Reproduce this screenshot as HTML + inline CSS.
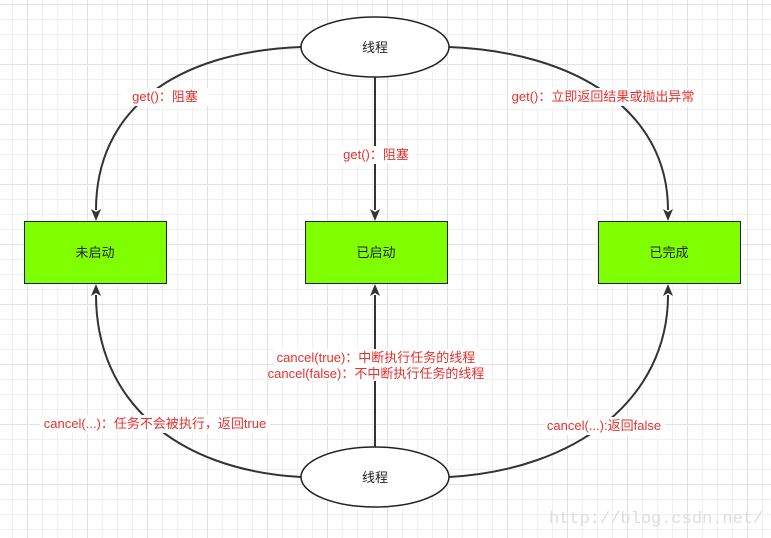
<!DOCTYPE html>
<html><head><meta charset="utf-8"><style>
html,body{margin:0;padding:0;}
body{width:771px;height:538px;overflow:hidden;background:#fff;
background-image:
linear-gradient(to right,#e2e2e2 1px,transparent 1px),
linear-gradient(to bottom,#e2e2e2 1px,transparent 1px),
linear-gradient(to right,#f0f0f0 1px,transparent 1px),
linear-gradient(to bottom,#f0f0f0 1px,transparent 1px);
background-size:60px 60px,60px 60px,15px 15px,15px 15px;
background-position:27px 0,0 4px,12px 0,0 4px;}
svg{position:absolute;left:0;top:0}
text{font-family:"Liberation Sans","Noto Sans CJK SC",sans-serif;font-size:13px}
.r{fill:#e8302c}
</style></head><body>
<svg width="771" height="538" viewBox="0 0 771 538">
<g fill="none" stroke="#333" stroke-width="2">
<path d="M301,47 C175,52 96,110 96,210"/>
<path d="M449,47 C575,52 668,110 668,210"/>
<path d="M375,77 L375,210"/>
<path d="M301,477 C175,470 96,400 96,295"/>
<path d="M449,477 C575,470 668,400 668,295"/>
<path d="M375,447 L375,295"/>
</g>
<g fill="#333">
<path d="M96,221 l-5,-12 l5,3 l5,-3z"/>
<path d="M375,221 l-5,-12 l5,3 l5,-3z"/>
<path d="M668,221 l-5,-12 l5,3 l5,-3z"/>
<path d="M96,284 l-5,12 l5,-3 l5,3z"/>
<path d="M375,284 l-5,12 l5,-3 l5,3z"/>
<path d="M668,284 l-5,12 l5,-3 l5,3z"/>
</g>
<g fill="#80ff00" stroke="#222" stroke-width="1">
<rect x="24.5" y="221.5" width="142" height="62"/>
<rect x="305.5" y="221.5" width="142" height="62"/>
<rect x="598.5" y="221.5" width="142" height="62"/>
</g>
<g fill="#fff" stroke="#222" stroke-width="1.5">
<ellipse cx="375" cy="47" rx="74" ry="30"/>
<ellipse cx="375" cy="477" rx="74" ry="30"/>
</g>
<g text-anchor="middle" fill="#222">
<text x="375" y="52">线程</text>
<text x="375" y="482">线程</text>
<text x="95" y="257">未启动</text>
<text x="376" y="257">已启动</text>
<text x="669" y="257">已完成</text>
</g>
<g text-anchor="middle" class="r">
<rect x="122" y="88" width="86" height="18" fill="#fff"/>
<text x="165" y="101" class="r">get()：阻塞</text>
<rect x="339" y="146" width="74" height="18" fill="#fff"/>
<text x="376" y="159" class="r">get()：阻塞</text>
<rect x="508" y="88" width="190" height="18" fill="#fff"/>
<text x="603" y="101" class="r">get()：立即返回结果或抛出异常</text>
<rect x="274" y="349" width="206" height="32" fill="#fff"/>
<text x="376" y="362" class="r">cancel(true)：中断执行任务的线程</text>
<text x="376" y="378" class="r">cancel(false)：不中断执行任务的线程</text>
<rect x="40" y="415" width="230" height="18" fill="#fff"/>
<text x="155" y="428" class="r">cancel(...)：任务不会被执行，返回true</text>
<rect x="545" y="417" width="120" height="18" fill="#fff"/>
<text x="604" y="430" class="r">cancel(...):返回false</text>
</g>
<text x="549" y="523" style="font-family:'Liberation Mono',monospace;font-size:17px" fill="#ddd">http://blog.csdn.net/</text>
</svg>
</body></html>
